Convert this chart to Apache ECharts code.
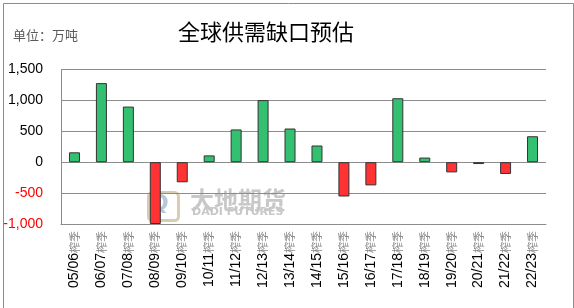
<!DOCTYPE html>
<html>
<head>
<meta charset="utf-8">
<script src="https://cdn.jsdelivr.net/npm/echarts@6/dist/echarts.min.js"></script>
<style>html,body{margin:0;padding:0;background:#fff;}#c{width:574px;height:308px;}</style>
</head>
<body>
<div id="c"></div>
<script>
const categories = ['05/06榨季','06/07榨季','07/08榨季','08/09榨季','09/10榨季','10/11榨季','11/12榨季','12/13榨季','13/14榨季','14/15榨季','15/16榨季','16/17榨季','17/18榨季','18/19榨季','19/20榨季','20/21榨季','21/22榨季','22/23榨季'];
const gapValues = [160, 1280, 900, -1000, -325, 110, 530, 1005, 545, 270, -555, -375, 1035, 75, -165, -30, -190, 420];
const yTicks = [-1000, -500, 0, 500, 1000, 1500];

const chart = echarts.init(document.getElementById('c'), null, {renderer: 'canvas'});
chart.setOption({
  animation: false,
  backgroundColor: '#fff',
  title: {
    text: '全球供需缺口预估',
    left: 261, top: 16, textAlign: 'center',
    textStyle: {fontFamily: 'Noto Sans CJK SC', fontSize: 22, fontWeight: 'normal', color: '#000'}
  },
  graphic: [
    {type: 'rect', left: 1, top: 1, shape: {width: 570, height: 305}, style: {fill: 'none', stroke: '#8c8c8c', lineWidth: 1}, z: 100},
    {type: 'text', left: 13, top: 29, style: {text: '单位：万吨', font: '13px "Noto Sans CJK SC"', fill: '#595959'}},
    {type: 'text', left: 190, top: 188, style: {text: '大地期货', font: 'bold 24px "Noto Sans CJK SC"', fill: '#c8c8c8'}, z: 0},
    {type: 'text', left: 192, top: 207, style: {text: 'DADI FUTURES', font: 'bold 11px "DejaVu Sans"', fill: '#c8c8c8'}, z: 0},
    {type: 'rect', left: 146, top: 190, shape: {width: 30, height: 28, r: 4}, style: {fill: 'none', stroke: '#d9cdb0', lineWidth: 3}, z: 0},
    {type: 'text', left: 150, top: 193, style: {text: 'Q', font: 'bold 22px "DejaVu Sans"', fill: '#b8c8dc'}, z: 0}
  ],
  grid: {left: 61, right: 28, top: 69.5, bottom: 84, containLabel: false},
  xAxis: {
    type: 'category',
    data: categories,
    axisLine: {onZero: false, show: true, lineStyle: {color: '#8c8c8c'}},
    axisTick: {show: false},
    axisLabel: {
      rotate: 90, margin: 7, interval: 0,
      formatter: function (v) { return '{n|' + v.slice(0, 5) + '}{s|' + v.slice(5) + '}'; },
      rich: {
        n: {fontFamily: 'Liberation Sans', fontSize: 14, color: '#000'},
        s: {fontFamily: 'Noto Sans CJK SC', fontSize: 11, color: '#888'}
      }
    }
  },
  yAxis: {
    type: 'value', min: -1000, max: 1500, interval: 500,
    axisLine: {show: true, lineStyle: {color: '#8c8c8c'}},
    axisTick: {show: false},
    splitLine: {lineStyle: {color: '#8c8c8c', width: 1}},
    axisLabel: {
      margin: 18,
      fontFamily: 'Liberation Sans', fontSize: 14,
      formatter: function (v) { return v.toLocaleString('en-US'); },
      color: function (v) { return Number(v) < 0 ? '#ff0000' : '#000'; }
    }
  },
  series: [{
    type: 'bar',
    data: gapValues,
    barWidth: 11,
    z: 5,
    itemStyle: {
      borderColor: '#333',
      borderWidth: 1,
      color: function (p) { return p.value >= 0 ? '#33c070' : '#ff3333'; }
    }
  }]
});
</script>
</body>
</html>
